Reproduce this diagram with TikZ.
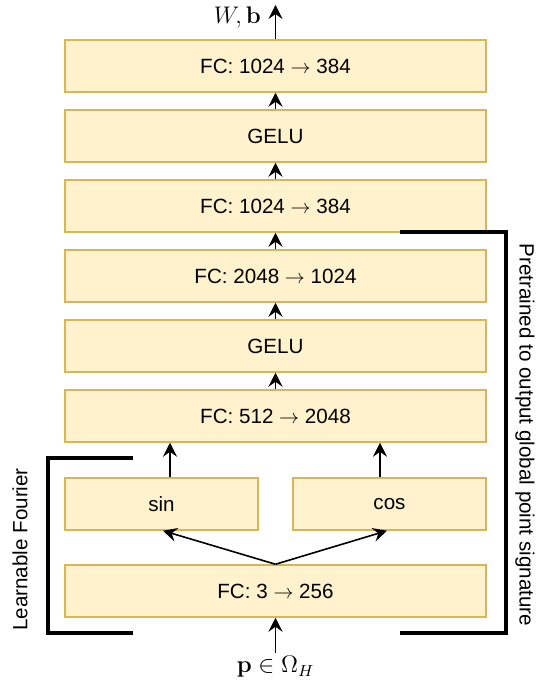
\documentclass[tikz,border=0pt]{standalone}
\usepackage{amsmath,amssymb}
\usepackage[no-math]{fontspec}
\setmainfont{Liberation Sans}
\usepackage{xcolor}
\definecolor{boxfill}{HTML}{FFF2CC}
\definecolor{boxline}{HTML}{D6B656}
\usepackage{tikz}
\usetikzlibrary{arrows.meta,positioning}

\begin{document}
\begin{tikzpicture}[x=0.5pt,y=0.5pt,>={Stealth[length=7pt,width=7pt,inset=2.5pt]},
  layer/.style={draw=boxline,fill=boxfill,line width=0.75pt,
    minimum width=210.5pt,minimum height=26pt,font=\fontsize{10.3}{12}\selectfont},
  half/.style={layer,minimum width=96.5pt},
  conn/.style={->,line width=0.8pt},
  brk/.style={line width=1.6pt},
  side/.style={font=\fontsize{10.3}{12}\selectfont}]
  \useasboundingbox (0,0) rectangle (538,685);
  \node[layer](fcout) at (275.5,619){FC: 1024 $\rightarrow$ 384};
  \node[layer](gelub) at (275.5,549){GELU};
  \node[layer](fcc) at (275.5,479){FC: 1024 $\rightarrow$ 384};
  \node[layer](fcb) at (275.5,409){FC: 2048 $\rightarrow$ 1024};
  \node[layer](gelua) at (275.5,339){GELU};
  \node[layer](fca) at (275.5,269){FC: 512 $\rightarrow$ 2048};
  \node[half](sin) at (161.5,181){sin};
  \node[half](cos) at (389.5,181){cos};
  \node[layer](fcin) at (275.5,94){FC: 3 $\rightarrow$ 256};
  \coordinate (top) at (275.5,680);
  \coordinate (bot) at (275.5,32);
  \node[font=\fontsize{12}{14}\selectfont,anchor=east](wb) at (268,667){$W,\mathbf{b}$};
  \node[font=\fontsize{12}{14}\selectfont](pin) at (275.5,18){$\mathbf{p}\in\Omega_H$};
  \draw[conn](fcout)--(top);
  \draw[conn](gelub)--(fcout);
  \draw[conn](fcc)--(gelub);
  \draw[conn](fcb)--(fcc);
  \draw[conn](gelua)--(fcb);
  \draw[conn](fca)--(gelua);
  \draw[conn]([xshift=4.25pt]sin.north)--([xshift=4.25pt]sin.north |- fca.south);
  \draw[conn]([xshift=-4.75pt]cos.north)--([xshift=-4.75pt]cos.north |- fca.south);
  \draw[conn](fcin.north)--([xshift=0.75pt]sin.south);
  \draw[conn](fcin.north)--([xshift=-1.25pt]cos.south);
  \draw[conn](bot)--(fcin);
  % brackets
  \draw[brk](133,227)--(48,227)--(48,52)--(133,52);
  \draw[brk](400,453)--(506,453)--(506,52)--(400,52);
  \node[side,rotate=90](lf) at (20,135.5){Learnable Fourier};
  \node[side,rotate=-90](pre) at (525,250){Pretrained to output global point signature};
\end{tikzpicture}
\end{document}
